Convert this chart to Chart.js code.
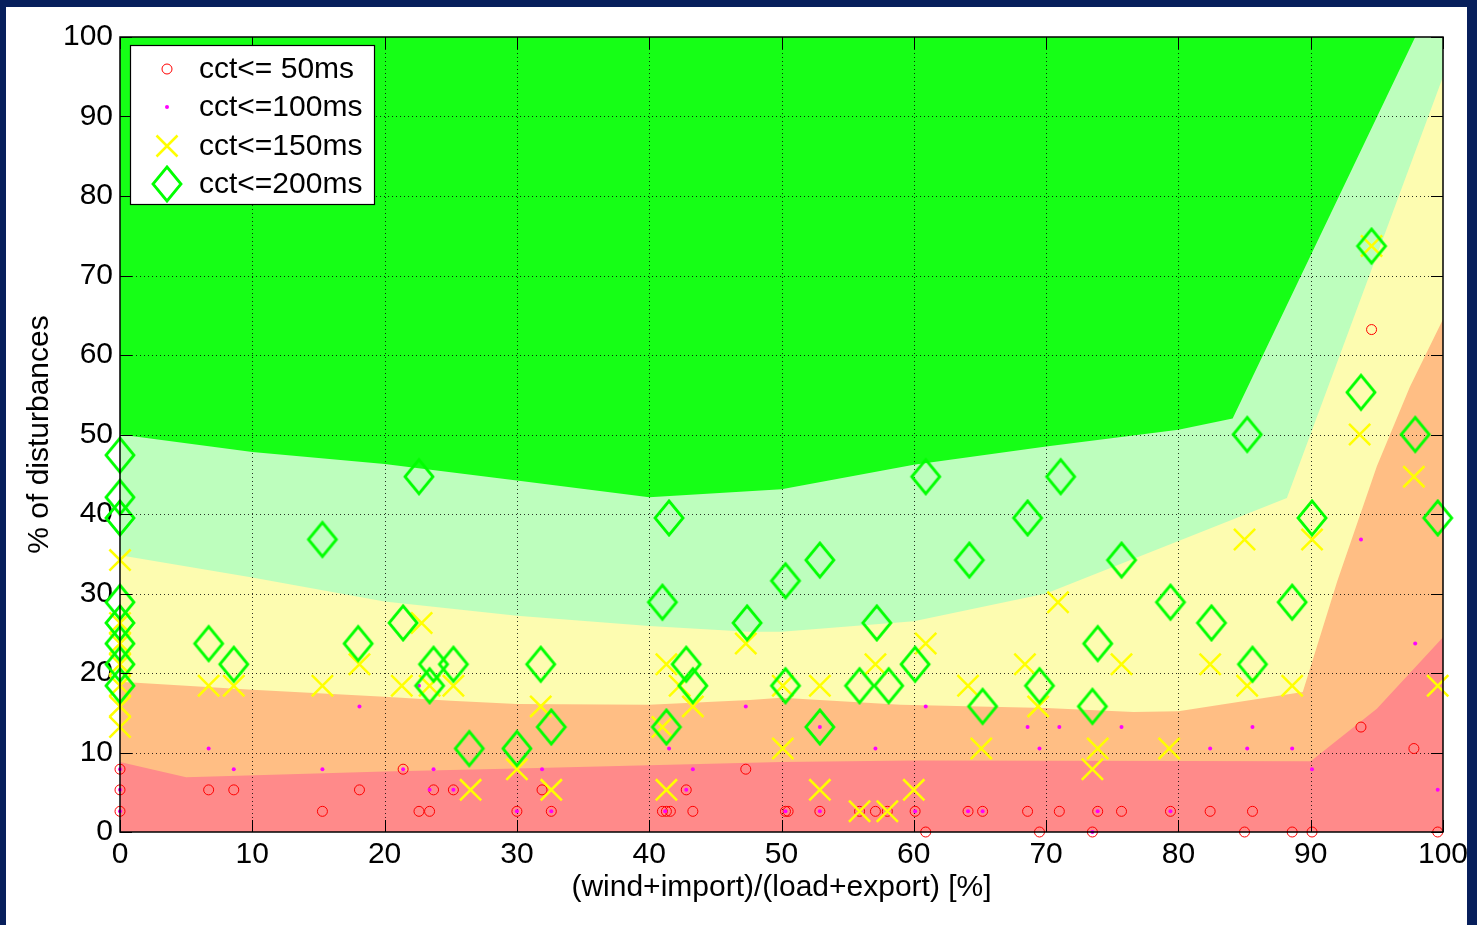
<!DOCTYPE html>
<html>
<head>
<meta charset="utf-8">
<script src="https://cdn.jsdelivr.net/npm/chart.js@4.4.1/dist/chart.umd.min.js"></script>
<style>
  html, body { margin: 0; padding: 0; width: 1477px; height: 925px; overflow: hidden; background: #071f5c; }
  #wrap { position: absolute; left: 6px; top: 7px; width: 1461px; height: 918px; background: #ffffff; }
  canvas { display: block; }
</style>
</head>
<body>
<div id="wrap"><canvas id="chart" width="1461" height="918"></canvas></div>
<script>
// Axis ticks
const xTicks = [0, 10, 20, 30, 40, 50, 60, 70, 80, 90, 100];
const yTicks = [0, 10, 20, 30, 40, 50, 60, 70, 80, 90, 100];
const seriesNames = ['cct<= 50ms', 'cct<=100ms', 'cct<=150ms', 'cct<=200ms'];

// cct <= 50 ms
const cct50X = [0, 0, 0, 6.7, 8.6, 15.3, 18.1, 21.4, 22.6, 23.4, 23.7, 25.2, 30.0, 31.9, 32.6, 41.0, 41.3, 41.6, 42.8, 43.3, 47.3, 50.3, 50.5, 52.9, 55.9, 57.1, 58.0, 60.1, 60.9, 64.1, 65.2, 68.6, 69.5, 71.0, 73.5, 73.9, 75.7, 79.4, 82.4, 85.0, 85.6, 88.6, 90.1, 93.8, 94.6, 97.8, 99.6];
const cct50Y = [7.9, 5.3, 2.6, 5.3, 5.3, 2.6, 5.3, 7.9, 2.6, 2.6, 5.3, 5.3, 2.6, 5.3, 2.6, 2.6, 2.6, 2.6, 5.3, 2.6, 7.9, 2.6, 2.6, 2.6, 2.6, 2.6, 2.6, 2.6, 0, 2.6, 2.6, 2.6, 0, 2.6, 0, 2.6, 2.6, 2.6, 2.6, 0, 2.6, 0, 0, 13.2, 63.2, 10.5, 0];

// cct <= 100 ms
const cct100X = [0, 0, 0, 0, 6.7, 8.6, 15.3, 18.1, 21.4, 22.6, 23.4, 23.7, 25.2, 30.0, 31.9, 32.6, 41.2, 41.5, 42.8, 43.3, 47.3, 50.3, 52.9, 52.9, 55.9, 57.1, 58.0, 60.1, 60.9, 64.1, 65.2, 68.6, 69.5, 71.0, 73.5, 73.9, 75.7, 79.4, 82.4, 85.2, 85.6, 88.6, 90.1, 93.8, 97.9, 99.6];
const cct100Y = [7.9, 5.3, 2.6, 18.4, 10.5, 7.9, 7.9, 15.8, 7.9, 18.4, 5.3, 7.9, 5.3, 2.6, 7.9, 2.6, 2.6, 10.5, 5.3, 7.9, 15.8, 2.6, 13.2, 2.6, 2.6, 10.5, 2.6, 2.6, 15.8, 2.6, 2.6, 13.2, 10.5, 13.2, 0, 2.6, 13.2, 2.6, 10.5, 10.5, 13.2, 10.5, 7.9, 36.8, 23.7, 5.3];

// cct <= 150 ms
const cct150X = [0, 0, 0, 0, 0, 0, 0, 6.7, 8.6, 15.3, 18.1, 21.3, 22.8, 23.4, 25.2, 26.5, 30.0, 31.8, 32.6, 41.3, 42.3, 43.3, 41.0, 41.3, 47.3, 50.1, 50.1, 52.9, 52.9, 55.9, 57.1, 58.0, 60.0, 60.9, 64.1, 65.1, 68.4, 69.4, 70.9, 73.5, 73.9, 75.7, 79.3, 82.4, 85.0, 85.2, 88.6, 90.1, 93.7, 94.6, 97.8, 99.6];
const cct150Y = [34.2, 26.3, 23.7, 21.1, 18.4, 15.8, 13.2, 18.4, 18.4, 18.4, 21.1, 18.4, 26.3, 18.4, 18.4, 5.3, 7.9, 15.8, 5.3, 21.1, 18.4, 15.8, 13.2, 5.3, 23.7, 10.5, 18.4, 18.4, 5.3, 2.6, 21.1, 2.6, 5.3, 23.7, 18.4, 10.5, 21.1, 15.8, 28.9, 7.9, 10.5, 21.1, 10.5, 21.1, 36.8, 18.4, 18.4, 36.8, 50.0, 73.7, 44.7, 18.4];

// cct <= 200 ms
const cct200X = [0, 0, 0, 0, 0, 0, 0, 0, 6.7, 8.6, 15.3, 18.0, 21.4, 22.6, 23.4, 23.7, 25.2, 26.4, 30.0, 31.8, 32.6, 41.0, 41.5, 41.3, 42.8, 43.3, 47.4, 50.3, 50.3, 52.9, 52.9, 55.9, 57.2, 58.1, 60.1, 60.9, 64.2, 65.2, 68.6, 69.5, 71.1, 73.5, 73.9, 75.7, 79.4, 82.5, 85.2, 85.6, 88.6, 90.1, 93.8, 94.6, 97.9, 99.6];
const cct200Y = [47.4, 42.1, 39.5, 28.9, 26.3, 23.7, 21.1, 18.4, 23.7, 21.1, 36.8, 23.7, 26.3, 44.7, 18.4, 21.1, 21.1, 10.5, 10.5, 21.1, 13.2, 28.9, 39.5, 13.2, 21.1, 18.4, 26.3, 31.6, 18.4, 34.2, 13.2, 18.4, 26.3, 18.4, 21.1, 44.7, 34.2, 15.8, 39.5, 18.4, 44.7, 15.8, 23.7, 34.2, 28.9, 26.3, 50.0, 21.1, 28.9, 39.5, 55.3, 73.7, 50.0, 39.5];

// Upper edges of the shaded bands
const greenTopX = [0, 100];
const greenTopY = [100, 100];
const lightGreenTopX = [0, 10, 20, 30, 40, 50, 60, 70, 80, 84.1, 97.9, 100];
const lightGreenTopY = [50.0, 47.8, 46.3, 44.2, 42.1, 43.1, 46.2, 48.5, 50.6, 52.0, 100, 100];
const yellowTopX = [0, 10, 20, 30, 40, 47.5, 50, 60, 70, 88.2, 100];
const yellowTopY = [34.8, 32.0, 29.0, 27.2, 25.9, 25.2, 25.2, 26.5, 30.0, 42.0, 95.0];
const orangeTopX = [0, 10, 20, 25, 30, 40, 47.6, 50, 59, 70, 76.6, 80, 89.4, 92, 95, 97.5, 100];
const orangeTopY = [18.9, 17.9, 17.0, 16.5, 16.1, 16.0, 16.6, 16.9, 16.0, 15.6, 15.1, 15.2, 17.6, 31.5, 46.0, 56.0, 64.5];
const redTopX = [0, 5, 20, 30, 40, 50, 60, 90, 95, 100];
const redTopY = [8.8, 6.9, 7.6, 8.0, 8.4, 8.8, 9.0, 8.9, 15.5, 24.5];

const FONT = '"Liberation Sans", Arial, Helvetica, sans-serif';
const FONT_SIZE = 30;

const pts = (xs, ys) => xs.map((x, i) => ({ x, y: ys[i] }));

// Diamond marker (slightly taller than wide)
function makeDiamond() {
  const c = document.createElement('canvas');
  c.width = 34; c.height = 40;
  const g = c.getContext('2d');
  g.strokeStyle = '#00ff00';
  g.lineWidth = 2.8;
  g.lineJoin = 'miter';
  g.beginPath();
  g.moveTo(17, 3); g.lineTo(31, 20); g.lineTo(17, 37); g.lineTo(3, 20); g.closePath();
  g.stroke();
  return c;
}
const diamond = makeDiamond();

const markerStyles = [
  { pointStyle: 'circle', radius: 5, pointBorderColor: '#ff0000', pointBackgroundColor: 'rgba(0,0,0,0)', pointBorderWidth: 1 },
  { pointStyle: 'circle', radius: 2, pointBorderColor: '#ff00ff', pointBackgroundColor: '#ff00ff', pointBorderWidth: 0 },
  { pointStyle: 'crossRot', radius: 15, pointBorderColor: '#ffff00', pointBackgroundColor: '#ffff00', pointBorderWidth: 2.5 },
  { pointStyle: diamond, radius: 17, pointBorderColor: '#00ff00', pointBackgroundColor: 'rgba(0,0,0,0)', pointBorderWidth: 0 }
];

function markerSet(label, data, st, order) {
  return {
    type: 'scatter', label, data, order, clip: false,
    showLine: false,
    pointStyle: st.pointStyle, pointRadius: st.radius, pointHoverRadius: st.radius,
    pointBorderColor: st.pointBorderColor, pointBackgroundColor: st.pointBackgroundColor,
    pointBorderWidth: st.pointBorderWidth
  };
}
function band(label, data, color, order) {
  return {
    type: 'line', label, data, order,
    borderWidth: 0, borderColor: color, backgroundColor: color,
    pointRadius: 0, pointHoverRadius: 0, tension: 0, fill: 'origin'
  };
}

const datasets = [
  markerSet(seriesNames[0], pts(cct50X, cct50Y), markerStyles[0], 3),
  markerSet(seriesNames[1], pts(cct100X, cct100Y), markerStyles[1], 2),
  markerSet(seriesNames[2], pts(cct150X, cct150Y), markerStyles[2], 1),
  markerSet(seriesNames[3], pts(cct200X, cct200Y), markerStyles[3], 0),
  band('red', pts(redTopX, redTopY), '#ff8a8a', 10),
  band('orange', pts(orangeTopX, orangeTopY), '#ffbe84', 11),
  band('yellow', pts(yellowTopX, yellowTopY), '#fdfcb0', 12),
  band('lightgreen', pts(lightGreenTopX, lightGreenTopY), '#bdfebd', 13),
  band('green', pts(greenTopX, greenTopY), '#16ff16', 14)
];
const RED_BAND = 4;

function drawGrid(chart) {
  const { ctx, chartArea: a, scales: { x, y } } = chart;
  ctx.save();
  ctx.strokeStyle = 'rgba(0,0,0,0.8)';
  ctx.lineWidth = 1;
  ctx.setLineDash([1, 3]);
  ctx.beginPath();
  xTicks.forEach(v => {
    if (v <= x.min || v >= x.max) return;
    const p = Math.round(x.getPixelForValue(v)) + 0.5;
    ctx.moveTo(p, a.top); ctx.lineTo(p, a.bottom);
  });
  yTicks.forEach(v => {
    if (v <= y.min || v >= y.max) return;
    const p = Math.round(y.getPixelForValue(v)) + 0.5;
    ctx.moveTo(a.left, p); ctx.lineTo(a.right, p);
  });
  ctx.stroke();
  ctx.restore();
}

function drawFrame(chart) {
  const { ctx, chartArea: a, scales: { x, y } } = chart;
  const len = 12;
  ctx.save();
  ctx.strokeStyle = '#000';
  ctx.lineWidth = 1;
  ctx.beginPath();
  xTicks.forEach(v => {
    const p = Math.round(x.getPixelForValue(v)) + 0.5;
    ctx.moveTo(p, a.bottom); ctx.lineTo(p, a.bottom - len);
    ctx.moveTo(p, a.top); ctx.lineTo(p, a.top + len);
  });
  yTicks.forEach(v => {
    const p = Math.round(y.getPixelForValue(v)) + 0.5;
    ctx.moveTo(a.left, p); ctx.lineTo(a.left + len, p);
    ctx.moveTo(a.right, p); ctx.lineTo(a.right - len, p);
  });
  ctx.stroke();
  ctx.lineWidth = 1.5;
  ctx.strokeRect(a.left, a.top, a.right - a.left, a.bottom - a.top);
  ctx.restore();
}

function drawLegend(chart) {
  const ctx = chart.ctx;
  const box = { l: 124, t: 38, r: 368, b: 197 };
  const rows = [62, 100, 139, 177];
  const mx = 161, tx = 193;
  ctx.save();
  ctx.fillStyle = '#fff';
  ctx.fillRect(box.l, box.t, box.r - box.l, box.b - box.t);
  ctx.strokeStyle = '#000';
  ctx.lineWidth = 1.2;
  ctx.strokeRect(box.l + 0.5, box.t + 0.5, box.r - box.l, box.b - box.t);
  // markers
  ctx.lineWidth = 1; ctx.strokeStyle = '#ff0000';
  ctx.beginPath(); ctx.arc(mx, rows[0], 5, 0, Math.PI * 2); ctx.stroke();
  ctx.fillStyle = '#ff00ff';
  ctx.beginPath(); ctx.arc(mx, rows[1], 2, 0, Math.PI * 2); ctx.fill();
  ctx.strokeStyle = '#ffff00'; ctx.lineWidth = 2.5;
  ctx.beginPath();
  ctx.moveTo(mx - 10.5, rows[2] - 10.5); ctx.lineTo(mx + 10.5, rows[2] + 10.5);
  ctx.moveTo(mx + 10.5, rows[2] - 10.5); ctx.lineTo(mx - 10.5, rows[2] + 10.5);
  ctx.stroke();
  ctx.drawImage(diamond, mx - diamond.width / 2, rows[3] - diamond.height / 2);
  // labels
  ctx.fillStyle = '#000';
  ctx.font = FONT_SIZE + 'px ' + FONT;
  ctx.textAlign = 'left';
  ctx.textBaseline = 'middle';
  seriesNames.forEach((s, i) => ctx.fillText(s, tx, rows[i] + 1));
  ctx.restore();
}

const overlay = {
  id: 'overlay',
  afterDatasetDraw(chart, args) { if (args.index === RED_BAND) drawGrid(chart); },
  afterDatasetsDraw(chart) { drawFrame(chart); },
  afterDraw(chart) { drawLegend(chart); }
};

new Chart(document.getElementById('chart'), {
  type: 'scatter',
  data: { datasets },
  options: {
    responsive: false,
    animation: false,
    events: [],
    layout: { padding: { left: 0, top: 30, right: 24, bottom: 0 } },
    plugins: { legend: { display: false }, tooltip: { enabled: false } },
    scales: {
      x: {
        type: 'linear', min: 0, max: 100,
        afterBuildTicks: s => { s.ticks = xTicks.map(v => ({ value: v })); },
        afterFit: s => { s.height = 93; s.paddingLeft = 0; s.paddingRight = 0; },
        grid: { display: false, drawTicks: false },
        border: { display: false },
        ticks: { color: '#000', font: { family: FONT, size: FONT_SIZE }, padding: 5, maxRotation: 0, autoSkip: false },
        title: { display: true, text: '(wind+import)/(load+export) [%]', color: '#000', font: { family: FONT, size: FONT_SIZE }, padding: { top: 0, bottom: 19 } }
      },
      y: {
        type: 'linear', min: 0, max: 100,
        afterBuildTicks: s => { s.ticks = yTicks.map(v => ({ value: v })); },
        afterFit: s => { s.width = 114; s.paddingTop = 0; s.paddingBottom = 0; },
        grid: { display: false, drawTicks: false },
        border: { display: false },
        ticks: { color: '#000', font: { family: FONT, size: FONT_SIZE }, padding: 7, autoSkip: false },
        title: { display: true, text: '% of disturbances', color: '#000', font: { family: FONT, size: FONT_SIZE }, padding: { top: 16, bottom: 0 } }
      }
    }
  },
  plugins: [overlay]
});
</script>
</body>
</html>
